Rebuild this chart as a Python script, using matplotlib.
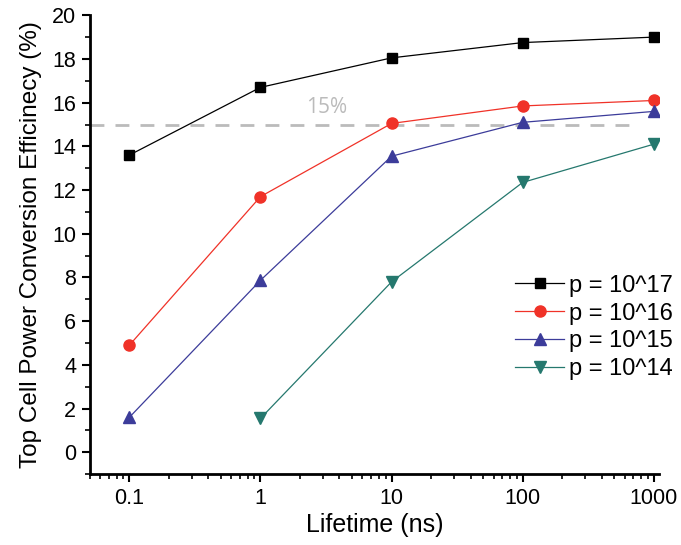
import matplotlib
matplotlib.use('Agg')
import matplotlib.pyplot as plt
from matplotlib.ticker import MultipleLocator, LogLocator, FixedLocator

plt.rcParams['font.family'] = ['Liberation Sans', 'DejaVu Sans']

lifetime = [0.1, 1, 10, 100, 1000]
eff_17 = [13.6, 16.7, 18.05, 18.75, 19.0]
eff_16 = [4.9, 11.7, 15.05, 15.85, 16.1]
eff_15 = [1.6, 7.87, 13.55, 15.1, 15.6]
lifetime_14 = [1, 10, 100, 1000]
eff_14 = [1.55, 7.8, 12.35, 14.1]
labels = ['p = 10^17', 'p = 10^16', 'p = 10^15', 'p = 10^14']
tick_labels = ['0.1', '1', '10', '100', '1000']

fig = plt.figure(figsize=(6.81, 5.45), dpi=100)
ax = fig.add_axes([0.132, 0.130, 0.836, 0.842])

ax.axhline(15, color='#bbbbbb', lw=2, ls=(0, (5, 4)), xmax=0.95, zorder=1)
ax.text(3.2, 15.3, '15%', color='#bbbbbb', fontsize=15, ha='center', va='bottom',
        family=['Open Sans', 'DejaVu Sans'])

ax.plot(lifetime, eff_17, color='black', lw=0.9, marker='s', ms=7, label=labels[0])
ax.plot(lifetime, eff_16, color='#f03228', lw=0.9, marker='o', ms=8, label=labels[1])
ax.plot(lifetime, eff_15, color='#3c3c9a', lw=0.9, marker='^', ms=8, label=labels[2])
ax.plot(lifetime_14, eff_14, color='#25786e', lw=0.9, marker='v', ms=8, label=labels[3])

ax.set_xscale('log')
ax.set_xlim(0.05, 1100)
ax.xaxis.set_major_locator(FixedLocator(lifetime))
ax.set_xticklabels(tick_labels)
ax.xaxis.set_minor_locator(LogLocator(base=10, subs=range(2, 10)))
ax.xaxis.set_minor_formatter(plt.NullFormatter())
ax.yaxis.set_major_locator(MultipleLocator(2))
ax.yaxis.set_minor_locator(MultipleLocator(1))
ax.set_ylim(-1, 20)

for s in ['top', 'right']:
    ax.spines[s].set_visible(False)
for s in ['left', 'bottom']:
    ax.spines[s].set_linewidth(2)
ax.tick_params(which='major', direction='out', length=6, width=1.5, labelsize=15.5, pad=4)
ax.tick_params(which='minor', direction='out', length=3.5, width=1.2)

ax.set_xlabel('Lifetime (ns)', fontsize=18, labelpad=3)
ax.set_ylabel('Top Cell Power Conversion Efficinecy (%)', fontsize=17.5, labelpad=7)

ax.legend(loc='center left', bbox_to_anchor=(0.756, 0.399), bbox_transform=fig.transFigure,
          frameon=False, fontsize=17, borderpad=0, borderaxespad=0,
          handlelength=2.1, handletextpad=0.2, labelspacing=0.25)

fig.savefig('out.png', dpi=100)
